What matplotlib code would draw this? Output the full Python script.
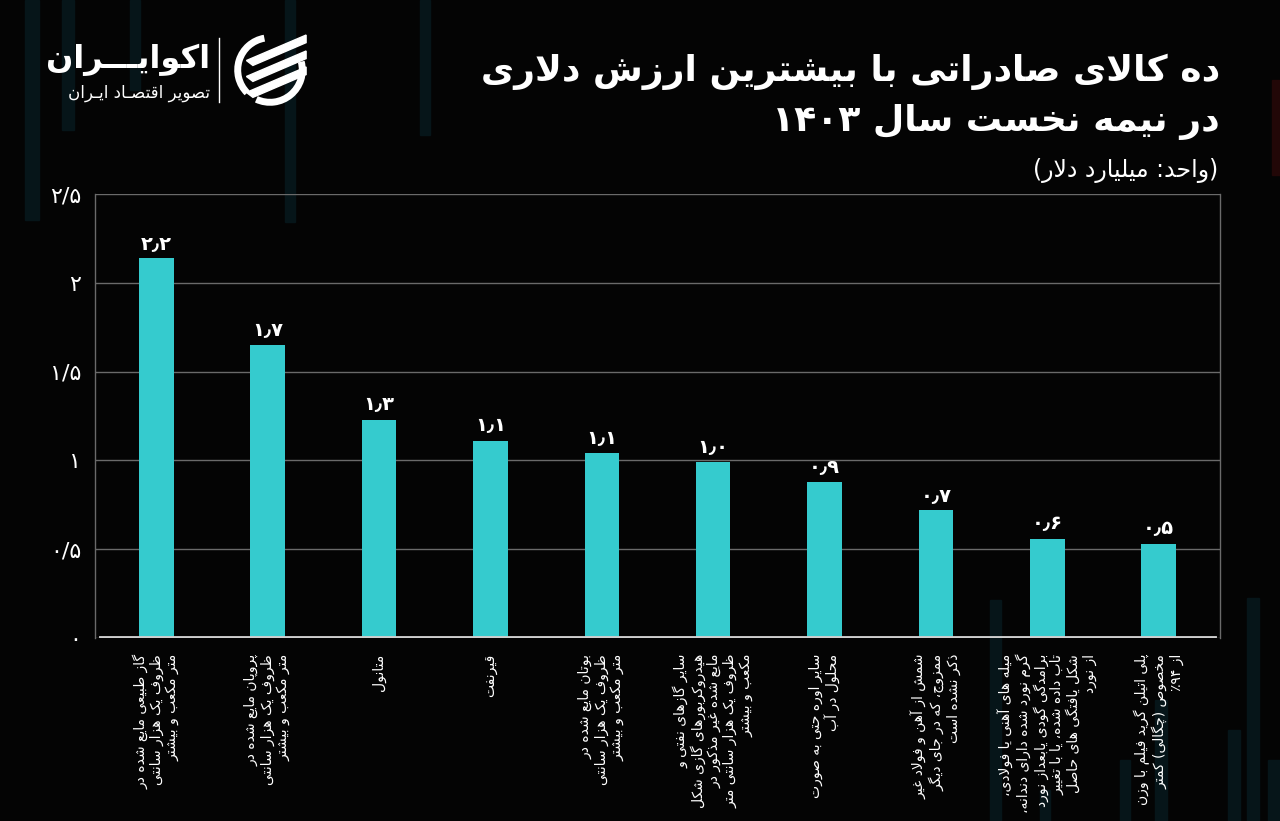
import numpy as np
import matplotlib.pyplot as plt
from matplotlib.patches import Rectangle, Arc, Polygon
from matplotlib.ticker import FuncFormatter

# ===== data =====
categories = [
    "گاز طبیعی مایع شده در\nظروف یک هزار سانتی\nمتر مکعب و بیشتر",
    "پروپان مایع شده در\nظروف یک هزار سانتی\nمتر مکعب و بیشتر",
    "متانول",
    "قیرنفت",
    "بوتان مایع شده در\nظروف یک هزار سانتی\nمتر مکعب و بیشتر",
    "سایر گازهای نفتی و\nهیدروکربورهای گازی شکل\nمایع شده غیر مذکور در\nظروف یک هزار سانتی متر\nمکعب و بیشتر",
    "سایر اوره حتی به صورت\nمحلول در آب",
    "شمش از آهن و فولاد غیر\nممزوج، که در جای دیگر\nذکر نشده است",
    "میله های آهنی یا فولادی،\nگرم نورد شده دارای دندانه،\nبرامدگی گودی یابعداز نورد\nتاب داده شده، یا با تغییر\nشکل یافتگی های حاصل\nاز نورد",
    "پلی اتیلن گرید فیلم با وزن\nمخصوص (چگالی) کمتر\nاز ۹۴٪",
]
values = [2.14, 1.65, 1.23, 1.11, 1.04, 0.99, 0.88, 0.72, 0.56, 0.53]
value_labels = ["2.2", "1.7", "1.3", "1.1", "1.1", "1.0", "0.9", "0.7", "0.6", "0.5"]
yticks = [0, 0.5, 1, 1.5, 2, 2.5]

title1 = "ده کالای صادراتی با بیشترین ارزش دلاری"
title2 = "در نیمه نخست سال ۱۴۰۳"
subtitle = "(واحد: میلیارد دلار)"
brand = "اکوایـــران"
brand_sub = "تصویر اقتصـاد ایـران"

BG = '#040404'
BAR = '#35cbce'

# ===== simple persian shaping (matplotlib has no bidi / shaping) =====
# letter: (isolated, final, initial, medial) ; 2-tuple = right-joining only
FORMS = {
    'ا': (0xFE8D, 0xFE8E), 'آ': (0xFE81, 0xFE82), 'أ': (0xFE83, 0xFE84),
    'إ': (0xFE87, 0xFE88), 'د': (0xFEA9, 0xFEAA), 'ذ': (0xFEAB, 0xFEAC),
    'ر': (0xFEAD, 0xFEAE), 'ز': (0xFEAF, 0xFEB0), 'ژ': (0xFB8A, 0xFB8B),
    'و': (0xFEED, 0xFEEE), 'ؤ': (0xFE85, 0xFE86), 'ة': (0xFE93, 0xFE94),
    'ب': (0xFE8F, 0xFE90, 0xFE91, 0xFE92), 'پ': (0xFB56, 0xFB57, 0xFB58, 0xFB59),
    'ت': (0xFE95, 0xFE96, 0xFE97, 0xFE98), 'ث': (0xFE99, 0xFE9A, 0xFE9B, 0xFE9C),
    'ج': (0xFE9D, 0xFE9E, 0xFE9F, 0xFEA0), 'چ': (0xFB7A, 0xFB7B, 0xFB7C, 0xFB7D),
    'ح': (0xFEA1, 0xFEA2, 0xFEA3, 0xFEA4), 'خ': (0xFEA5, 0xFEA6, 0xFEA7, 0xFEA8),
    'س': (0xFEB1, 0xFEB2, 0xFEB3, 0xFEB4), 'ش': (0xFEB5, 0xFEB6, 0xFEB7, 0xFEB8),
    'ص': (0xFEB9, 0xFEBA, 0xFEBB, 0xFEBC), 'ض': (0xFEBD, 0xFEBE, 0xFEBF, 0xFEC0),
    'ط': (0xFEC1, 0xFEC2, 0xFEC3, 0xFEC4), 'ظ': (0xFEC5, 0xFEC6, 0xFEC7, 0xFEC8),
    'ع': (0xFEC9, 0xFECA, 0xFECB, 0xFECC), 'غ': (0xFECD, 0xFECE, 0xFECF, 0xFED0),
    'ف': (0xFED1, 0xFED2, 0xFED3, 0xFED4), 'ق': (0xFED5, 0xFED6, 0xFED7, 0xFED8),
    'ک': (0xFB8E, 0xFB8F, 0xFB90, 0xFB91), 'ك': (0xFED9, 0xFEDA, 0xFEDB, 0xFEDC),
    'گ': (0xFB92, 0xFB93, 0xFB94, 0xFB95), 'ل': (0xFEDD, 0xFEDE, 0xFEDF, 0xFEE0),
    'م': (0xFEE1, 0xFEE2, 0xFEE3, 0xFEE4), 'ن': (0xFEE5, 0xFEE6, 0xFEE7, 0xFEE8),
    'ه': (0xFEE9, 0xFEEA, 0xFEEB, 0xFEEC), 'ی': (0xFBFC, 0xFBFD, 0xFBFE, 0xFBFF),
    'ي': (0xFEF1, 0xFEF2, 0xFEF3, 0xFEF4), 'ئ': (0xFE89, 0xFE8A, 0xFE8B, 0xFE8C),
    'ـ': (0x0640, 0x0640, 0x0640, 0x0640),
}
LAM_ALEF = {'ا': (0xFEFB, 0xFEFC), 'آ': (0xFEF5, 0xFEF6),
            'أ': (0xFEF7, 0xFEF8), 'إ': (0xFEF9, 0xFEFA)}
DIGITS = set('0123456789۰۱۲۳۴۵۶۷۸۹٫/.')
MIRROR = {'(': ')', ')': '('}


def shape_line(s):
    out = []
    i = 0
    n = len(s)
    while i < n:
        c = s[i]
        if c not in FORMS:
            out.append(MIRROR.get(c, c))
            i += 1
            continue
        prev = s[i - 1] if i > 0 else ''
        joins_prev = prev in FORMS and len(FORMS[prev]) == 4
        if c == 'ل' and i + 1 < n and s[i + 1] in LAM_ALEF:
            f = LAM_ALEF[s[i + 1]]
            out.append(chr(f[1] if joins_prev else f[0]))
            i += 2
            continue
        nxt = s[i + 1] if i + 1 < n else ''
        f = FORMS[c]
        joins_next = len(f) == 4 and nxt in FORMS
        if joins_prev and joins_next:
            out.append(chr(f[3]))
        elif joins_prev:
            out.append(chr(f[1]))
        elif joins_next:
            out.append(chr(f[2]))
        else:
            out.append(chr(f[0]))
        i += 1
    # visual order: reverse, but keep number runs left-to-right
    out = out[::-1]
    res, run = [], []
    for ch in out:
        if ch in DIGITS:
            run.append(ch)
        else:
            res.extend(run[::-1])
            run = []
            res.append(ch)
    res.extend(run[::-1])
    return ''.join(res)


def fa(s):
    return '\n'.join(shape_line(line) for line in s.split('\n'))


FA_DIGITS = str.maketrans('0123456789', '۰۱۲۳۴۵۶۷۸۹')


def fa_num(txt, sep='/'):
    return txt.replace('.', sep).translate(FA_DIGITS)


plt.rcParams['font.family'] = ['DejaVu Sans']

fig = plt.figure(figsize=(12.8, 8.21), dpi=100, facecolor=BG)

# faint background stripes (decoration)
deco = [(25, 0, 14, 220), (62, 0, 12, 130), (130, 0, 10, 90), (285, 0, 10, 222),
        (420, 0, 10, 135), (990, 600, 11, 221), (1040, 790, 10, 31),
        (1120, 760, 10, 61), (1155, 700, 12, 121), (1228, 730, 12, 91),
        (1247, 598, 12, 223), (1268, 760, 12, 61)]
for x0, y0, w, h in deco:
    fig.add_artist(Rectangle((x0 / 1280, 1 - (y0 + h) / 821), w / 1280, h / 821,
                             transform=fig.transFigure, color='#061519', zorder=-1))
fig.add_artist(Rectangle((1272 / 1280, 1 - 175 / 821), 8 / 1280, 95 / 821,
                         transform=fig.transFigure, color='#220707', zorder=-1))

ax = fig.add_axes([95 / 1280, 1 - 638 / 821, 1125 / 1280, 444 / 821])
ax.set_facecolor('none')

x = np.arange(len(values))
ax.bar(x, values, width=0.31, color=BAR, zorder=3)
for xi, v, lab in zip(x, values, value_labels):
    ax.text(xi, v + 0.03, fa_num(lab, '٫'), ha='center', va='bottom',
            color='white', fontsize=14, fontweight='bold')

ax.set_xlim(-0.55, len(values) - 0.45)
ax.set_ylim(0, 2.5)
ax.set_yticks(yticks)
ax.yaxis.set_major_formatter(FuncFormatter(lambda v, p: fa_num('%g' % v)))
ax.tick_params(axis='y', length=0, pad=10, colors='white', labelsize=16)
ax.set_xticks(x)
ax.set_xticklabels([])
ax.tick_params(axis='x', length=0)
ax.grid(axis='y', color='#6a6a6a', linewidth=1, zorder=1)
for side in ['top', 'bottom']:
    ax.spines[side].set_visible(False)
for side in ['left', 'right']:
    ax.spines[side].set_color('#6a6a6a')
    ax.spines[side].set_linewidth(1)
ax.axhline(0, xmin=0.005, xmax=0.995, color='#cfcfcf', linewidth=3.5, zorder=4)

for xi, cat in zip(x, categories):
    ax.text(xi, -0.09, fa(cat), rotation=90, ha='center', va='top',
            multialignment='right', color='white', fontsize=10,
            linespacing=1.15)

# titles
fig.text(1220 / 1280, 1 - 72 / 821, fa(title1), ha='right', va='center',
         color='white', fontsize=26, fontweight='bold')
fig.text(1220 / 1280, 1 - 122 / 821, fa(title2), ha='right', va='center',
         color='white', fontsize=26, fontweight='bold')
fig.text(1218 / 1280, 1 - 170 / 821, fa(subtitle), ha='right', va='center',
         color='white', fontsize=17)

# logo
fig.text(210 / 1280, 1 - 60 / 821, fa(brand), ha='right', va='center',
         color='white', fontsize=23, fontweight='bold')
fig.text(210 / 1280, 1 - 93 / 821, fa(brand_sub), ha='right', va='center',
         color='white', fontsize=12)
fig.add_artist(plt.Line2D([219 / 1280, 219 / 1280], [1 - 38 / 821, 1 - 102 / 821],
                          transform=fig.transFigure, color='white', linewidth=1))
lax = fig.add_axes([232 / 1280, 1 - 108 / 821, 76 / 1280, 76 / 821])
lax.set_xlim(-1, 1)
lax.set_ylim(-1, 1)
lax.set_aspect('equal')
lax.axis('off')
lax.add_patch(Arc((0, 0), 1.7, 1.7, theta1=100, theta2=225, color='white', linewidth=5))
lax.add_patch(Arc((0, 0), 1.7, 1.7, theta1=245, theta2=15, color='white', linewidth=5))
for dy in [0.3, -0.12, -0.54]:
    lax.add_patch(Polygon([(-0.62, dy - 0.05), (0.95, dy + 0.62), (0.95, dy + 0.42),
                           (-0.45, dy - 0.18)], closed=True, color='white'))

fig.savefig('out.png', dpi=100, facecolor=BG)
